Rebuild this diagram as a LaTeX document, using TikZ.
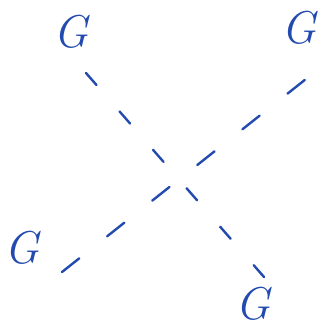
\documentclass[tikz,border=0pt]{standalone}
\usetikzlibrary{calc}
\definecolor{ink}{RGB}{35,75,175}
\begin{document}
\begin{tikzpicture}[x=1pt,y=1pt,
  glabel/.style={text=ink,inner sep=0pt,font=\fontsize{46}{46}\selectfont\itshape},
  dashline/.style={draw=ink,line width=2.4pt,line cap=round}]
\useasboundingbox (0,0) rectangle (326,329);
\node[glabel] (tl) at (71,297) {G};
\node[glabel] (tr) at (299,301) {G};
\node[glabel] (bl) at (22,81) {G};
\node[glabel] (br) at (253,25) {G};
\coordinate (a1) at (86,256);
\coordinate (a2) at (264,52);
\coordinate (b1) at (62,57);
\coordinate (b2) at (306,250);
\draw[dashline,dash pattern=on 16pt off 35pt] (a1) -- (a2);
\draw[dashline,dash pattern=on 22pt off 35.5pt] (b1) -- (b2);
\end{tikzpicture}
\end{document}
